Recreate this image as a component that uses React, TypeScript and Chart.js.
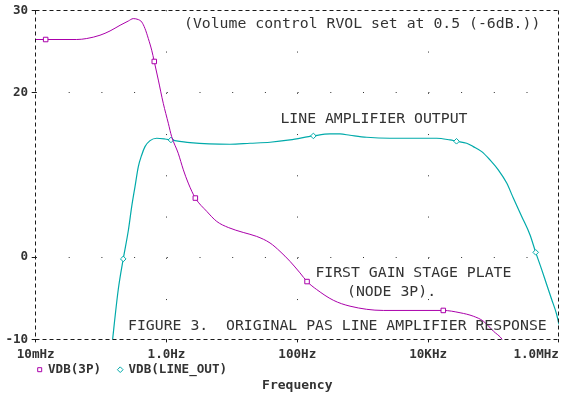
import React, { useEffect, useRef } from 'react';
import { Chart, registerables } from 'chart.js';

Chart.register(...registerables);

// ---- data (frequency in Hz, level in dB) ----
const freq3P = [0.01, 0.0142, 0.0424, 0.0603, 0.0962, 0.137, 0.195, 0.261, 0.31, 0.371, 0.418, 0.469, 0.527, 0.594, 0.65, 0.75, 0.893, 1.066, 1.2, 1.51, 1.81, 2.15, 2.76, 4.12, 5.86, 8.81, 14.9, 23.9, 38.3, 54.4, 77.3, 110, 141, 198, 355, 640, 2065, 17060, 30800, 49100, 69800, 99300, 136000, 200000];
const vdb3P = [26.45, 26.45, 26.45, 26.57, 26.97, 27.49, 28.18, 28.7, 28.99, 28.87, 28.58, 27.78, 26.57, 25.15, 23.78, 21.52, 18.69, 16.27, 14.64, 12.63, 10.61, 9.0, 7.18, 5.57, 4.34, 3.6, 3.0, 2.52, 1.72, 0.7, -0.51, -1.92, -2.97, -3.94, -5.24, -5.96, -6.48, -6.48, -6.76, -7.18, -7.78, -8.99, -10, -12.5];
const markers3P = [1, 14, 22, 32, 37];

const freqOut = [0.137, 0.15, 0.183, 0.218, 0.262, 0.294, 0.33, 0.371, 0.418, 0.469, 0.56, 0.708, 0.948, 1.17, 2.29, 9.35, 18.9, 38.3, 77.3, 176, 316, 450, 640, 1151, 2612, 13520, 21620, 27200, 38900, 49100, 66100, 88300, 118300, 159200, 200900, 270000, 361000, 442000, 546000, 650000, 776000, 925000, 1000000];
const vdbOut = [-13, -10, -3.94, -0.22, 3.33, 6.16, 8.58, 11.0, 12.42, 13.43, 14.16, 14.45, 14.36, 14.24, 13.92, 13.72, 13.84, 13.96, 14.24, 14.73, 14.97, 14.97, 14.81, 14.57, 14.45, 14.45, 14.24, 14.08, 13.84, 13.43, 12.82, 11.82, 10.61, 9.0, 7.18, 4.95, 2.73, 0.58, -1.52, -3.33, -5.15, -6.97, -8.18];
const markersOut = [3, 13, 19, 27, 37];

const seriesNames = ['VDB(3P)', 'VDB(LINE_OUT)'];
const xTickValues = [0.01, 1, 100, 10000, 1000000];
const xTickLabels = ['10mHz', '1.0Hz', '100Hz', '10KHz', '1.0MHz'];
const yTickValues = [-10, 0, 20, 30];
const axisTitle = 'Frequency';

const noteTexts = [
  '(Volume control RVOL set at 0.5 (-6dB.))',
  'LINE AMPLIFIER OUTPUT',
  'FIRST GAIN STAGE PLATE',
  '(NODE 3P).',
  'FIGURE 3.  ORIGINAL PAS LINE AMPLIFIER RESPONSE',
];
const noteFreqs = [1.85, 55.2, 189, 575, 0.258];
const noteDbs = [28.28, 16.73, -1.96, -4.22, -8.39];

// ---- styles ----
const INK = '#333333';
const FRAME = '#1a1a1a';
const MAGENTA = '#aa00aa';
const CYAN = '#00aaaa';
const MONO = '"DejaVu Sans Mono", monospace';
const NONE = 'rgba(0,0,0,0)';

const notesPlugin = {
  id: 'notes',
  afterDatasetsDraw(chart: any) {
    const { ctx, scales } = chart;
    const x = scales.x;
    const y = scales.y;
    ctx.save();
    ctx.font = '14.8px ' + MONO;
    ctx.fillStyle = INK;
    ctx.textAlign = 'left';
    ctx.textBaseline = 'middle';
    noteTexts.forEach((t, i) => {
      ctx.fillText(t, x.getPixelForValue(noteFreqs[i]), y.getPixelForValue(noteDbs[i]));
    });
    ctx.restore();
  },
};

const framePlugin = {
  id: 'plotFrame',
  afterDraw(chart: any) {
    const ctx = chart.ctx;
    const area = chart.chartArea;
    const l = Math.round(area.left - 0.5) + 0.5;
    const t = Math.round(area.top - 0.5) + 0.5;
    const r = Math.round(area.right - 0.5) + 0.5;
    const b = Math.round(area.bottom - 0.5) + 0.5;
    ctx.save();
    ctx.globalAlpha = 1;
    ctx.strokeStyle = FRAME;
    ctx.lineWidth = 1;
    ctx.setLineDash([4, 3]);
    ctx.lineDashOffset = 0;
    const seg = (x1: number, y1: number, x2: number, y2: number) => {
      ctx.beginPath();
      ctx.moveTo(x1, y1);
      ctx.lineTo(x2, y2);
      ctx.stroke();
    };
    seg(l, t, r, t);
    seg(l, t, l, b);
    seg(r, t, r, b);
    seg(l, b, r, b);
    ctx.restore();
  },
};

export default function App() {
  const ref = useRef<HTMLCanvasElement>(null);

  useEffect(() => {
    const xEdge = (c: any) => !!c.tick && (c.tick.value === xTickValues[0] || c.tick.value === xTickValues[xTickValues.length - 1]);
    const yEdge = (c: any) => !!c.tick && (c.tick.value === yTickValues[0] || c.tick.value === yTickValues[yTickValues.length - 1]);

    const chart = new Chart(ref.current as HTMLCanvasElement, {
      type: 'line',
      data: {
        datasets: [
          {
            label: seriesNames[0] + '  ',
            data: freq3P.map((f, i) => ({ x: f, y: vdb3P[i] })),
            borderColor: MAGENTA,
            backgroundColor: '#ffffff',
            borderWidth: 1,
            fill: false,
            cubicInterpolationMode: 'monotone',
            pointStyle: 'rect',
            pointRadius: (c: any) => (markers3P.includes(c.dataIndex) ? 3.2 : 0),
            pointBorderWidth: 1,
            pointBorderColor: MAGENTA,
            pointBackgroundColor: '#ffffff',
          },
          {
            label: seriesNames[1],
            data: freqOut.map((f, i) => ({ x: f, y: vdbOut[i] })),
            borderColor: CYAN,
            backgroundColor: '#ffffff',
            borderWidth: 1.2,
            fill: false,
            cubicInterpolationMode: 'monotone',
            pointStyle: 'rectRot',
            pointRadius: (c: any) => (markersOut.includes(c.dataIndex) ? 2.8 : 0),
            pointBorderWidth: 1,
            pointBorderColor: CYAN,
            pointBackgroundColor: '#ffffff',
          },
        ],
      },
      options: {
        responsive: false,
        animation: false,
        devicePixelRatio: 1,
        events: [],
        layout: { padding: { top: 10.3, left: 0, right: 9.1, bottom: 2 } },
        scales: {
          x: {
            type: 'logarithmic',
            min: 0.01,
            max: 1000000,
            afterBuildTicks: (s: any) => {
              s.ticks = xTickValues.map((v) => ({ value: v }));
            },
            afterFit: (s: any) => {
              s.height = 22;
              s.paddingLeft = 0;
              s.paddingRight = 0;
            },
            ticks: {
              autoSkip: false,
              maxRotation: 0,
              minRotation: 0,
              padding: 4.5,
              color: INK,
              font: { family: MONO, size: 12.6, weight: 'bold' },
              callback: (_v: any, i: number) => {
                const t = xTickLabels[i];
                return i === xTickLabels.length - 1 ? t + ' '.repeat(t.length) : t;
              },
            },
            grid: {
              color: (c: any) => (xEdge(c) ? NONE : INK),
              lineWidth: 1,
              drawTicks: true,
              tickLength: 3,
              tickColor: FRAME,
            },
            border: {
              display: false,
              dash: [1, 40.25],
            },
          },
          y: {
            type: 'linear',
            min: -10,
            max: 30,
            afterBuildTicks: (s: any) => {
              s.ticks = yTickValues.map((v) => ({ value: v }));
            },
            afterFit: (s: any) => {
              s.width = 35.7;
              s.paddingTop = 0;
              s.paddingBottom = 0;
            },
            ticks: {
              padding: 3.5,
              color: INK,
              font: { family: MONO, size: 12.6, weight: 'bold' },
              callback: (v: any) => String(v),
            },
            grid: {
              color: (c: any) => (yEdge(c) ? NONE : INK),
              lineWidth: 1,
              drawTicks: true,
              tickLength: 4,
              tickColor: FRAME,
            },
            border: {
              display: false,
              dash: [1, 31.7],
            },
          },
        },
        plugins: {
          tooltip: { enabled: false },
          legend: {
            display: true,
            position: 'bottom',
            align: 'start',
            fullSize: false,
            maxHeight: 16,
            labels: {
              usePointStyle: true,
              boxWidth: 4,
              boxHeight: 4,
              padding: 2,
              color: INK,
              font: { family: MONO, size: 12.6, weight: 'bold' },
            },
          },
          title: {
            display: true,
            text: axisTitle,
            position: 'bottom',
            fullSize: false,
            align: 'center',
            color: INK,
            font: { family: MONO, size: 13, weight: 'bold' },
            padding: { top: 0, bottom: 0 },
          },
        },
      },
      plugins: [framePlugin, notesPlugin],
    } as any);

    return () => chart.destroy();
  }, []);

  return (
    <div style={{ position: 'fixed', left: 0, top: 0, width: 568, height: 395, background: '#ffffff' }}>
      <canvas ref={ref} width={568} height={395} style={{ display: 'block', width: 568, height: 395 }} />
    </div>
  );
}
